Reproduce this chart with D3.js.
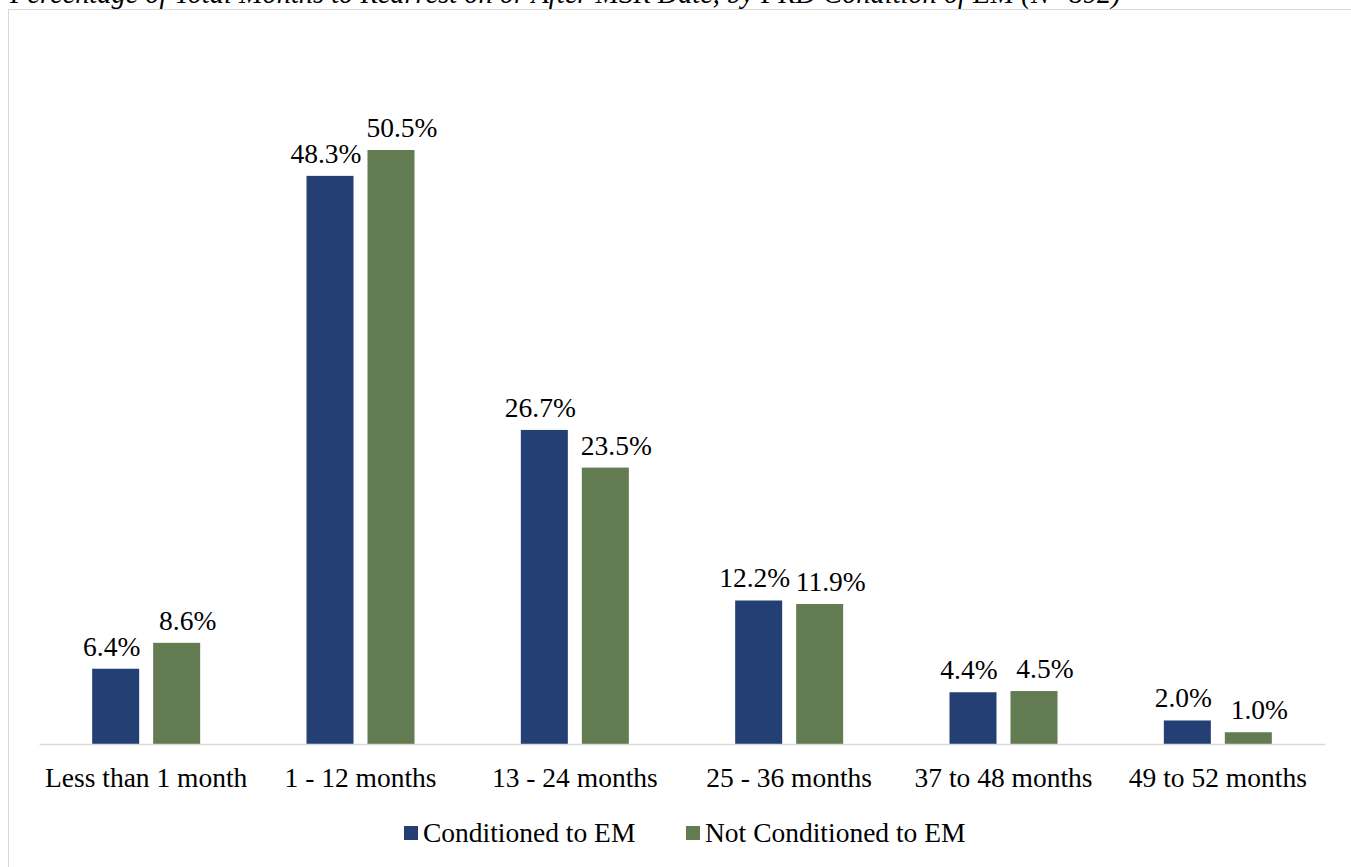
<!DOCTYPE html>
<html>
<head>
<meta charset="utf-8">
<script src="https://cdn.jsdelivr.net/npm/d3@7"></script>
<style>
  html, body { margin: 0; padding: 0; background: #fff; }
  svg { display: block; }
</style>
</head>
<body>
<svg id="chart" width="1351" height="867"></svg>
<script>
// Duration buckets and the share of cases in each, by condition group
const categories = ["Less than 1 month", "1 - 12 months", "13 - 24 months", "25 - 36 months", "37 to 48 months", "49 to 52 months"];
const seriesNames = ["Conditioned to EM", "Not Conditioned to EM"];
const conditioned = [6.4, 48.3, 26.7, 12.2, 4.4, 2.0];
const notConditioned = [8.6, 50.5, 23.5, 11.9, 4.5, 1.0];
const colors = ["#243F73", "#637B51"];
const title = "Percentage of Total Months to Rearrest on or After MSR Date, by PRD Condition of EM (N=892)";

const svg = d3.select("#chart");
const font = "'Liberation Serif', 'Times New Roman', serif";
const fs = 27.5;

// Title, partly clipped at the top of the page
svg.append("text")
  .attr("x", 10).attr("y", 3)
  .attr("font-family", font).attr("font-style", "italic")
  .attr("font-size", 28.4).attr("fill", "#000")
  .text(title);

// Chart frame
svg.append("rect")
  .attr("x", 8.5).attr("y", 9.5)
  .attr("width", 1400).attr("height", 900)
  .attr("fill", "#fff").attr("stroke", "#d9d9d9").attr("stroke-width", 1);

const left = 39, right = 1325, baseY = 744, topY = 150;
const x0 = d3.scaleBand().domain(categories).range([left, right]).padding(0);
const y = d3.scaleLinear().domain([0, 50.5]).range([baseY, topY]);

const barW = 47, gap = 14;
const series = [conditioned, notConditioned];
// value labels are nudged outward so neighbouring labels don't collide
const labelNudge = [-4, 11];

const groups = svg.append("g").selectAll("g")
  .data(categories).join("g")
  .attr("transform", d => `translate(${x0(d) + x0.bandwidth() / 2},0)`);

series.forEach((vals, si) => {
  const off = si === 0 ? -(gap / 2 + barW) : gap / 2;
  groups.append("rect")
    .attr("x", off)
    .attr("y", (d, i) => y(vals[i]))
    .attr("width", barW)
    .attr("height", (d, i) => baseY - y(vals[i]))
    .attr("fill", colors[si]);
  groups.append("text")
    .attr("x", off + barW / 2 + labelNudge[si])
    .attr("y", (d, i) => y(vals[i]) - 13)
    .attr("text-anchor", "middle")
    .attr("font-family", font).attr("font-size", fs).attr("fill", "#000")
    .text((d, i) => vals[i].toFixed(1) + "%");
});

// Category axis
const axis = svg.append("g")
  .attr("transform", `translate(0,${baseY})`)
  .call(d3.axisBottom(x0).tickSize(0).tickPadding(23));
axis.select(".domain").attr("stroke", "#d9d9d9").attr("stroke-width", 1.5);
axis.selectAll("text")
  .attr("font-family", font).attr("font-size", fs).attr("fill", "#000");

// Legend
const legend = svg.append("g").attr("transform", "translate(0,842)");
const legendX = [404, 686];
seriesNames.forEach((name, i) => {
  legend.append("rect")
    .attr("x", legendX[i]).attr("y", -16)
    .attr("width", 14).attr("height", 14)
    .attr("fill", colors[i]);
  legend.append("text")
    .attr("x", legendX[i] + 19).attr("y", 0)
    .attr("font-family", font).attr("font-size", fs).attr("fill", "#000")
    .text(name);
});
</script>
</body>
</html>
